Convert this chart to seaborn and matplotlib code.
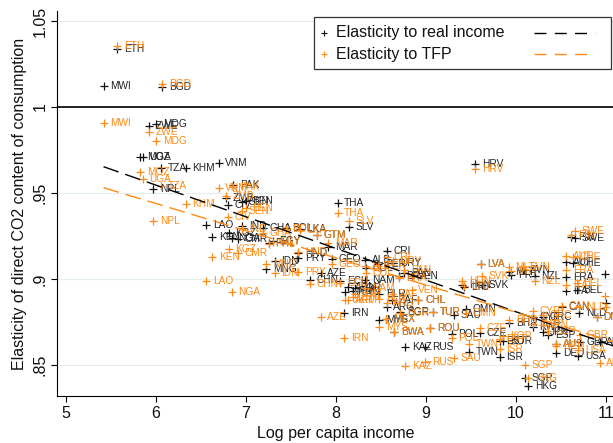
import numpy as np
import pandas as pd
import seaborn as sns
import matplotlib
matplotlib.use("Agg")
import matplotlib.pyplot as plt
from matplotlib.patches import Rectangle

# ---------------- data ----------------
countries = ["ETH", "MWI", "BGD", "ZWE", "MDG", "MOZ", "UGA", "TZA", "NPL", "KHM",
             "VNM", "PAK", "ZMB", "BEN", "CIV", "SEN", "LAO", "KEN", "KGZ", "NGA",
             "IND", "CMR", "GHA", "BOL", "LKA", "EGY", "PHL", "GTM", "MAR", "HND",
             "PRY", "AZE", "CHN", "IDN", "MNG", "THA", "SLV", "IRN", "GEO", "ALB",
             "CRI", "ECU", "UKR", "JOR", "ARM", "NAM", "TUN", "BLR", "ZAF", "ARG",
             "BGR", "MYS", "MEX", "BWA", "ROU", "KAZ", "RUS", "SAU", "OMN", "TUR",
             "CHL", "VEN", "PAN", "BRA", "COL", "PER", "URY", "POL", "CZE", "LVA",
             "HUN", "LTU", "SVK", "EST", "KOR", "TWN", "ISR", "HRV", "MLT", "SVN",
             "PRT", "NZL", "BHR", "KWT", "CYP", "GRC", "JPN", "ESP", "SGP", "HKG",
             "ITA", "FRA", "AUT", "CHE", "FIN", "SWE", "BEL", "NLD", "CAN", "DNK",
             "GBR", "ARE", "USA", "DEU", "AUS", "NOR", "IRL"]
log_income = [5.570, 5.417, 6.070, 5.917, 6.004, 5.826, 5.852, 6.057, 5.970, 6.330,
              6.696, 6.857, 6.774, 6.997, 6.800, 6.952, 6.557, 6.622, 6.809, 6.839,
              6.959, 6.913, 7.190, 7.439, 7.600, 7.296, 7.252, 7.790, 7.915, 7.578,
              7.580, 7.830, 7.711, 7.317, 7.222, 8.017, 8.148, 8.089, 7.952, 8.322,
              8.563, 8.044, 8.100, 8.211, 8.137, 8.322, 8.193, 8.481, 8.619, 8.563,
              8.711, 8.481, 8.560, 8.644, 9.044, 8.767, 8.989, 9.310, 9.448, 9.080,
              8.915, 8.840, 8.760, 8.700, 8.333, 8.470, 8.637, 9.285, 9.600, 9.609,
              9.404, 9.426, 9.620, 9.817, 9.861, 9.483, 9.817, 9.548, 9.920, 10.080,
              9.944, 10.210, 9.926, 10.185, 10.185, 10.300, 10.303, 10.359, 10.100, 10.137,
              10.556, 10.556, 10.556, 10.637, 10.611, 10.656, 10.674, 10.700, 10.507, 10.896,
              10.711, 10.930, 10.692, 10.444, 10.448, 10.990, 10.995]
elast_real = [1.0335, 1.0122, 1.0118, 0.9890, 0.9901, 0.9711, 0.9711, 0.9647, 0.9525, 0.9643,
              0.9676, 0.9545, 0.9473, 0.9455, 0.9432, 0.9450, 0.9314, 0.9246, 0.9269, 0.9236,
              0.9308, 0.9231, 0.9297, 0.9297, 0.9289, 0.9221, 0.9207, 0.9254, 0.9188, 0.9149,
              0.9120, 0.9033, 0.8994, 0.9105, 0.9060, 0.9444, 0.9302, 0.8800, 0.9114, 0.9110,
              0.9165, 0.8990, 0.8926, 0.8946, 0.8955, 0.8994, 0.8930, 0.8914, 0.8878, 0.8839,
              0.8810, 0.8762, 0.8766, 0.8694, 0.8713, 0.8603, 0.8603, 0.8788, 0.8828, 0.8807,
              0.8878, 0.9020, 0.9037, 0.9017, 0.9066, 0.9085, 0.9091, 0.8680, 0.8688, 0.9085,
              0.8963, 0.8955, 0.8963, 0.8640, 0.8640, 0.8576, 0.8549, 0.9671, 0.9042, 0.9052,
              0.9023, 0.9017, 0.8742, 0.8719, 0.8781, 0.8781, 0.8690, 0.8674, 0.8423, 0.8380,
              0.8932, 0.9010, 0.9101, 0.9095, 0.9242, 0.9236, 0.8936, 0.8804, 0.8835, 0.8781,
              0.8636, 0.8636, 0.8552, 0.8568, 0.8620, 0.9027, 0.8862]
elast_tfp = [1.0355, 0.9905, 1.0134, 0.9855, 0.9804, 0.9624, 0.9579, 0.9541, 0.9339, 0.9438,
             0.9527, 0.9535, 0.9483, 0.9410, 0.9360, 0.9397, 0.8988, 0.9130, 0.9176, 0.8924,
             0.9289, 0.9149, 0.9269, 0.9289, 0.9285, 0.9215, 0.9202, 0.9256, 0.9211, 0.9157,
             0.9043, 0.8781, 0.8969, 0.9037, 0.9085, 0.9386, 0.9337, 0.8655, 0.9085, 0.9076,
             0.9130, 0.8975, 0.8876, 0.8911, 0.8876, 0.8946, 0.8897, 0.8886, 0.8911, 0.8860,
             0.8800, 0.8723, 0.8766, 0.8694, 0.8713, 0.8496, 0.8519, 0.8539, 0.8800, 0.8810,
             0.8878, 0.8936, 0.9052, 0.9008, 0.9033, 0.9076, 0.9105, 0.8655, 0.8717, 0.9085,
             0.8988, 0.8959, 0.9017, 0.8649, 0.8669, 0.8620, 0.8595, 0.9638, 0.9071, 0.9071,
             0.9047, 0.8988, 0.8760, 0.8736, 0.8816, 0.8790, 0.8734, 0.8700, 0.8500, 0.8423,
             0.8965, 0.9052, 0.9134, 0.9128, 0.9256, 0.9281, 0.8975, 0.8836, 0.8843, 0.8781,
             0.8674, 0.8513, 0.8587, 0.8610, 0.8622, 0.8901, 0.8840]

# linear fits
fit_x = [5.417, 11.1]
fit_real = [0.9653, 0.8607]
fit_tfp = [0.9531, 0.8633]

series_names = ["Elasticity to real income", "Elasticity to TFP"]
x_ticks = [5, 6, 7, 8, 9, 10, 11]
y_ticks = [0.85, 0.90, 0.95, 1.00, 1.05]
y_tick_labels = [".85", ".9", ".95", "1", "1.05"]

# ---------------- styling ----------------
sns.set_theme(style="white")
plt.rcParams["font.family"] = ["Liberation Sans", "DejaVu Sans"]

BLACK = "#111111"
ORANGE = "#FF8A14"

df = pd.DataFrame({"country": countries, "x": log_income,
                   "real": elast_real, "tfp": elast_tfp})

fig = plt.figure(figsize=(6.13, 4.43), dpi=100)
ax = fig.add_axes([57 / 613, 47 / 443, 558 / 613, 385 / 443])

ax.set_xlim(4.9, 11.1)
ax.set_ylim(0.832, 1.0558)

# grid + reference line
for yv in y_ticks:
    if yv != 1.0:
        ax.axhline(yv, color="#E3ECEE", lw=0.9, zorder=0)
ax.axhline(1.0, color="black", lw=1.2, zorder=1)

# scatter series
sns.scatterplot(data=df, x="x", y="real", marker="+", color=BLACK, s=26,
                linewidth=0.9, ax=ax, zorder=3, legend=False)
for c, xv, yv in zip(countries, log_income, elast_real):
    ax.annotate(c, (xv, yv), xytext=(4.8, 0), textcoords="offset points",
                ha="left", va="center", fontsize=7.3, color="#222222", zorder=3)

sns.scatterplot(data=df, x="x", y="tfp", marker="+", color=ORANGE, s=26,
                linewidth=0.9, ax=ax, zorder=4, legend=False)
for c, xv, yv in zip(countries, log_income, elast_tfp):
    ax.annotate(c, (xv, yv), xytext=(4.8, 0), textcoords="offset points",
                ha="left", va="center", fontsize=7.3, color=ORANGE, zorder=4)

# fitted lines
fit_df = pd.DataFrame({"x": fit_x, "real": fit_real, "tfp": fit_tfp})
sns.lineplot(data=fit_df, x="x", y="real", color="black", lw=1.0, ax=ax,
             dashes=False, zorder=5)
sns.lineplot(data=fit_df, x="x", y="tfp", color=ORANGE, lw=1.0, ax=ax,
             dashes=False, zorder=5)
ax.lines[-2].set_dashes((11.5, 5))
ax.lines[-1].set_dashes((11.5, 5))

# axes
ax.set_xticks(x_ticks)
ax.set_xticklabels([str(v) for v in x_ticks], fontsize=11.5)
ax.set_yticks(y_ticks)
ax.set_yticklabels(y_tick_labels, rotation=90, va="center", fontsize=11.5)
ax.tick_params(axis="both", direction="out", length=4, width=0.8,
               color="black", pad=3, labelcolor="#111111")
ax.tick_params(axis="x", bottom=True)
ax.tick_params(axis="y", left=True)
for side in ["top", "right"]:
    ax.spines[side].set_visible(False)
for side in ["left", "bottom"]:
    ax.spines[side].set_color("black")
    ax.spines[side].set_linewidth(0.8)

ax.set_xlabel("Log per capita income", fontsize=11.5, labelpad=4, color="#111111")
ax.set_ylabel("Elasticity of direct CO2 content of consumption", fontsize=11.5,
              labelpad=4, color="#111111")

# legend (manual, Stata style)
ax.add_patch(Rectangle((0.4606, 0.8494), 0.5322, 0.135, transform=ax.transAxes,
                       facecolor="white", edgecolor="#333333", lw=0.9, zorder=10))
rows = [(0.9429, BLACK), (0.8883, ORANGE)]
for (yy, col), name in zip(rows, series_names):
    ax.scatter([0.4785], [yy], marker="+", s=16, color=col, linewidths=0.8,
               transform=ax.transAxes, zorder=11)
    ax.text(0.500, yy, name, transform=ax.transAxes, fontsize=11.5,
            va="center", ha="left", color="#111111", zorder=11)
    ln, = ax.plot([0.8548, 0.9642], [yy, yy], color=("black" if col == BLACK else ORANGE),
                  lw=1.0, transform=ax.transAxes, zorder=11)
    ln.set_dashes((8.6, 6.0))

fig.savefig("out.png", dpi=100)
